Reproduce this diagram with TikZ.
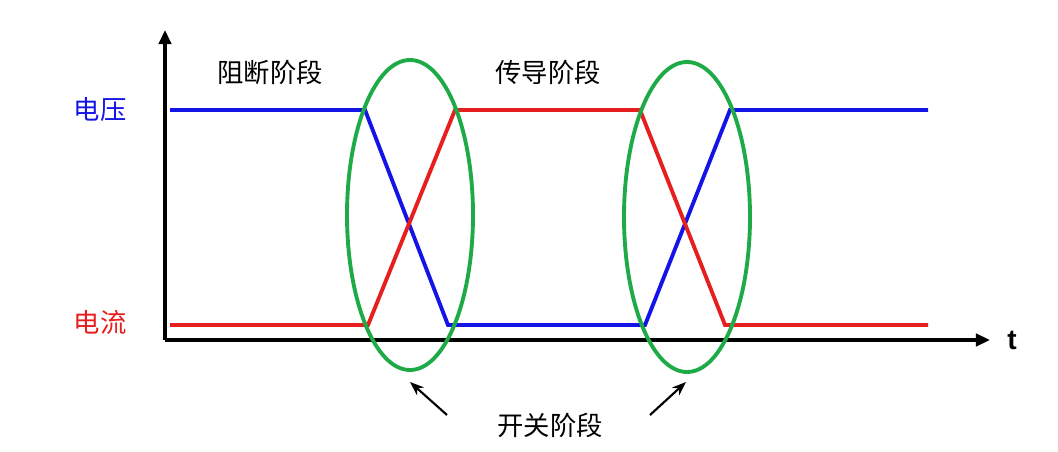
\documentclass[tikz,border=0pt]{standalone}
\usepackage{fontspec}
\setmainfont{Liberation Sans}
\newfontfamily\cjk{Noto Sans CJK SC}
\usetikzlibrary{arrows.meta}
\definecolor{vblue}{RGB}{20,20,230}
\definecolor{ired}{RGB}{230,30,30}
\definecolor{egreen}{RGB}{30,170,70}
\tikzset{
  wave/.style={line width=2.2pt},
  axis/.style={line width=2.4pt,-{Triangle[length=8pt,width=7pt]}},
  ring/.style={egreen,line width=2.2pt},
  lbl/.style={font=\cjk\fontsize{15}{17}\selectfont},
}
\begin{document}
\begin{tikzpicture}[x=0.02cm,y=-0.02cm]
\useasboundingbox (0,0) rectangle (1058,452);
% axes
\coordinate (O) at (165,340);
\coordinate (Ytop) at (165,30);
\coordinate (Xend) at (990,340);
\draw[axis] (O) -- (Ytop);
\draw[axis] (O) -- (Xend);
\node[font=\bfseries\fontsize{16}{18}\selectfont] (t) at (1012,340) {t};
% voltage
\draw[wave,vblue] (170,110) -- (365,110) -- (448,325) -- (645,325) -- (730,110) -- (928,110);
% current
\draw[wave,ired] (170,325) -- (368,325) -- (455,110) -- (640,110) -- (725,325) -- (928,325);
% switching regions
\draw[ring] (410,215) ellipse (63 and 155);
\draw[ring] (687,217) ellipse (63 and 155);
% labels
\node[lbl,vblue] (volt) at (100,110) {电压};
\node[lbl,ired] (curr) at (100,322) {电流};
\node[lbl] (block) at (270,72) {阻断阶段};
\node[lbl] (cond) at (548,72) {传导阶段};
\node[lbl] (sw) at (550,425) {开关阶段};
\coordinate (a1) at (410,382);
\coordinate (a2) at (686,382);
\draw[line width=1.2pt,-{Stealth[length=8pt]}] (447,415) -- (a1);
\draw[line width=1.2pt,-{Stealth[length=8pt]}] (650,415) -- (a2);
\end{tikzpicture}
\end{document}
